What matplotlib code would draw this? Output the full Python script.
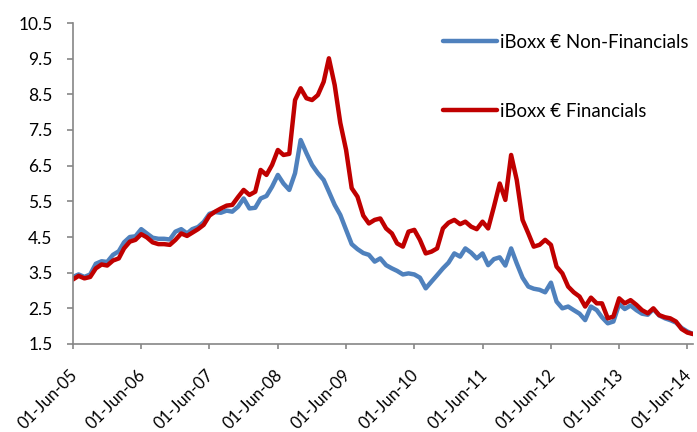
import matplotlib
matplotlib.use('Agg')
import matplotlib.pyplot as plt
import matplotlib.dates as mdates
import matplotlib.transforms as mtransforms
import numpy as np
import pandas as pd

plt.rcParams['font.family'] = ['Lato', 'DejaVu Sans']

# monthly yields (%), Jun-05 .. Jul-14
non_fin = [3.38, 3.45, 3.38, 3.45, 3.75, 3.82, 3.80, 4.00, 4.10, 4.35,
           4.50, 4.52, 4.72, 4.60, 4.48, 4.45, 4.45, 4.43, 4.65, 4.72,
           4.60, 4.72, 4.78, 4.92, 5.15, 5.20, 5.18, 5.24, 5.21, 5.35,
           5.58, 5.30, 5.32, 5.58, 5.65, 5.91, 6.24, 6.00, 5.82, 6.29,
           7.22, 6.85, 6.52, 6.29, 6.10, 5.77, 5.40, 5.12, 4.70, 4.30,
           4.16, 4.05, 4.00, 3.81, 3.90, 3.71, 3.62, 3.55, 3.45, 3.48,
           3.45, 3.36, 3.06, 3.25, 3.43, 3.62, 3.78, 4.04, 3.95, 4.18,
           4.06, 3.90, 4.04, 3.71, 3.88, 3.93, 3.70, 4.18, 3.76, 3.36,
           3.11, 3.05, 3.02, 2.95, 3.22, 2.69, 2.50, 2.55, 2.45, 2.35,
           2.17, 2.55, 2.45, 2.25, 2.08, 2.13, 2.62, 2.48, 2.58, 2.45,
           2.35, 2.32, 2.48, 2.30, 2.22, 2.17, 2.10, 1.95, 1.85, 1.78]

fin = [3.31, 3.41, 3.34, 3.38, 3.62, 3.73, 3.70, 3.84, 3.90, 4.18,
       4.37, 4.42, 4.58, 4.49, 4.35, 4.30, 4.30, 4.28, 4.42, 4.60,
       4.53, 4.62, 4.72, 4.84, 5.10, 5.21, 5.30, 5.38, 5.40, 5.62,
       5.82, 5.68, 5.77, 6.38, 6.24, 6.52, 6.94, 6.80, 6.83, 8.34,
       8.67, 8.39, 8.34, 8.48, 8.85, 9.51, 8.76, 7.70, 6.94, 5.87,
       5.63, 5.10, 4.88, 4.98, 5.02, 4.74, 4.60, 4.32, 4.23, 4.65,
       4.70, 4.42, 4.04, 4.09, 4.18, 4.74, 4.90, 4.98, 4.86, 4.93,
       4.79, 4.72, 4.93, 4.74, 5.35, 6.00, 5.54, 6.80, 6.10, 4.98,
       4.60, 4.23, 4.28, 4.42, 4.28, 3.67, 3.48, 3.11, 2.95, 2.83,
       2.55, 2.80, 2.64, 2.64, 2.22, 2.27, 2.78, 2.64, 2.73, 2.60,
       2.45, 2.36, 2.50, 2.31, 2.25, 2.22, 2.13, 1.92, 1.82, 1.78]

dates = pd.date_range('2005-06-01', periods=len(fin), freq='MS')
tick_dates = pd.date_range('2005-06-01', '2014-06-01', freq='12MS')
y_ticks = np.arange(1.5, 10.51, 1.0)

fig = plt.figure(figsize=(6.97, 4.32), dpi=100)
ax = fig.add_axes([73/697, 1-344/432, 620/697, 321/432])

ax.plot(dates, non_fin, color='#4F81BD', lw=3.2, label='iBoxx € Non-Financials',
        solid_capstyle='round', solid_joinstyle='round')
ax.plot(dates, fin, color='#C00000', lw=3.2, label='iBoxx € Financials',
        solid_capstyle='round', solid_joinstyle='round')

ax.set_ylim(1.5, 10.5)
ax.set_yticks(y_ticks)
ax.set_yticklabels(['%.1f' % v for v in y_ticks])
ax.set_xlim(dates[0], dates[-1])
ax.set_xticks(tick_dates)
ax.xaxis.set_major_formatter(mdates.DateFormatter('%d-%b-%y'))

for s in ['top', 'right']:
    ax.spines[s].set_visible(False)
for s in ['left', 'bottom']:
    ax.spines[s].set_color('#868686')
    ax.spines[s].set_linewidth(1.2)
ax.tick_params(colors='#868686', width=1.2, labelcolor='black')
ax.tick_params(axis='y', length=4.3, pad=10.5, labelsize=12.5)
ax.tick_params(axis='x', length=3.6, pad=17, labelsize=12)
shift = mtransforms.ScaledTranslation(2/100, 0, fig.dpi_scale_trans)
for lab in ax.get_xticklabels():
    lab.set_rotation(45)
    lab.set_ha('right')
    lab.set_va('center')
    lab.set_rotation_mode('anchor')
    lab.set_transform(lab.get_transform() + shift)

leg = ax.legend(loc='upper left', bbox_to_anchor=(443/697, 1-34/432), bbox_transform=fig.transFigure,
                frameon=False, fontsize=13.4, handlelength=2.9, handletextpad=0.16,
                labelspacing=2.78, borderpad=0, borderaxespad=0)

fig.savefig('out.png', dpi=100)
